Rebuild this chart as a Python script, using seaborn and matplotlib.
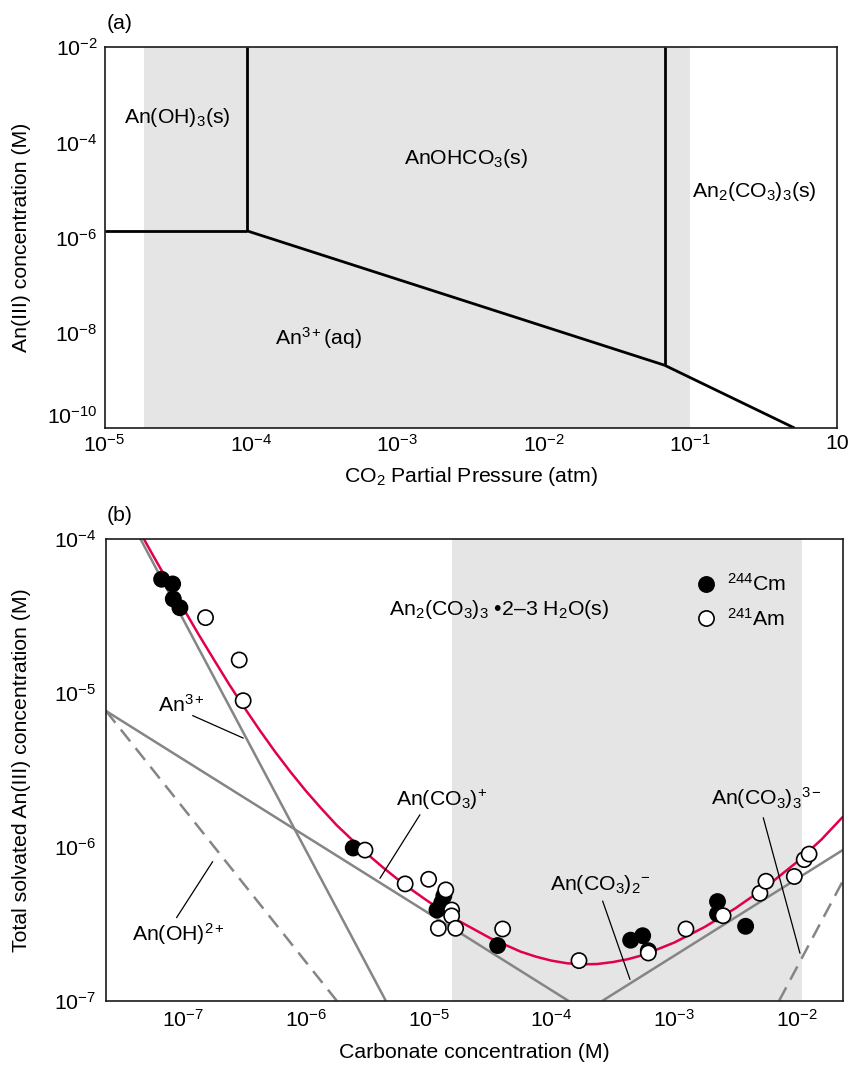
import numpy as np
import pandas as pd
import matplotlib
matplotlib.use("Agg")
import matplotlib.pyplot as plt
import seaborn as sns
from matplotlib.ticker import FixedLocator, FixedFormatter, NullLocator

# ---------------- data: panel (a) -----------------
a_shade = [1.86e-5, 0.1]                 # shaded CO2 range
a_oh_x = [1e-5, 9.4e-5]                  # An(OH)3 / An3+ boundary
a_oh_y = [1.39e-6, 1.39e-6]
a_v1_x = [9.4e-5, 9.4e-5]                # An(OH)3 / AnOHCO3 boundary
a_v1_y = [1.39e-6, 1e-2]
a_slope1_x = [9.4e-5, 0.0665]            # AnOHCO3 solubility
a_slope1_y = [1.39e-6, 2.09e-9]
a_v2_x = [0.0665, 0.0665]                # AnOHCO3 / An2(CO3)3 boundary
a_v2_y = [2.09e-9, 1e-2]
a_slope2_x = [0.0665, 0.513]             # An2(CO3)3 solubility
a_slope2_y = [2.09e-9, 1e-10]
a_xticks = [1e-5, 1e-4, 1e-3, 1e-2, 1e-1, 1e0]
a_xticklabels = ["$10^{-5}$", "$10^{-4}$", "$10^{-3}$", "$10^{-2}$", "$10^{-1}$", "10"]
a_yticks = [1e-10, 1e-8, 1e-6, 1e-4, 1e-2]
a_yticklabels = ["$10^{-10}$", "$10^{-8}$", "$10^{-6}$", "$10^{-4}$", "$10^{-2}$"]

# ---------------- data: panel (b) -----------------
b_shade = [1.556e-5, 1.1e-2]
an3_x = [4.47e-8, 4.47e-6];   an3_y = [1e-4, 1e-7]
anoh_x = [2.35e-8, 1.78e-6];  anoh_y = [7.6e-6, 1e-7]
anco3_x = [2.35e-8, 1.37e-4]; anco3_y = [7.6e-6, 1e-7]
anco32_x = [2.62e-4, 2.37e-2]; anco32_y = [1e-7, 9.5e-7]
anco33_x = [7.19e-3, 2.37e-2]; anco33_y = [1e-7, 5.97e-7]

total_x = [4.467e-8, 5.623e-8, 7.499e-8, 1e-7, 1.334e-7, 1.778e-7, 2.371e-7, 3.162e-7,
           4.217e-7, 5.623e-7, 7.499e-7, 1e-6, 1.334e-6, 1.778e-6, 2.371e-6, 3.162e-6,
           4.217e-6, 5.623e-6, 7.499e-6, 1e-5, 1.778e-5, 3.162e-5, 5.623e-5, 7.499e-5,
           1e-4, 1.334e-4, 1.778e-4, 2.371e-4, 3.162e-4, 4.217e-4, 5.623e-4, 1e-3,
           1.778e-3, 3.162e-3, 5.623e-3, 1e-2, 1.585e-2, 2.371e-2]
total_y = [1.096e-4, 7.89e-5, 5.27e-5, 3.54e-5, 2.39e-5, 1.64e-5, 1.13e-5, 7.96e-6,
           5.68e-6, 4.12e-6, 3.05e-6, 2.30e-6, 1.77e-6, 1.38e-6, 1.11e-6, 8.96e-7,
           7.36e-7, 6.12e-7, 5.16e-7, 4.39e-7, 3.28e-7, 2.55e-7, 2.08e-7, 1.93e-7,
           1.82e-7, 1.75e-7, 1.72e-7, 1.73e-7, 1.78e-7, 1.86e-7, 1.98e-7, 2.38e-7,
           3.01e-7, 3.98e-7, 5.48e-7, 7.93e-7, 1.11e-6, 1.56e-6]

cm_x = [6.67e-8, 8.2e-8, 8.3e-8, 9.4e-8, 2.43e-6, 1.33e-5, 1.28e-5, 1.17e-5, 3.65e-5,
        4.43e-4, 5.55e-4, 6.17e-4, 2.26e-3, 2.26e-3, 3.83e-3]
cm_y = [5.45e-5, 5.08e-5, 4.06e-5, 3.56e-5, 9.8e-7, 4.79e-7, 4.33e-7, 3.88e-7, 2.28e-7,
        2.47e-7, 2.64e-7, 2.11e-7, 4.4e-7, 3.66e-7, 3.04e-7]
am_x = [1.52e-7, 2.86e-7, 3.08e-7, 3.03e-6, 6.44e-6, 1.0e-5, 1.38e-5, 1.54e-5, 1.54e-5,
        1.2e-5, 1.66e-5, 4.01e-5, 1.68e-4, 6.17e-4, 1.25e-3, 2.51e-3, 5.01e-3, 5.61e-3,
        9.55e-3, 1.15e-2, 1.26e-2]
am_y = [3.07e-5, 1.63e-5, 8.87e-6, 9.5e-7, 5.73e-7, 6.14e-7, 5.24e-7, 3.88e-7, 3.55e-7,
        2.95e-7, 2.95e-7, 2.92e-7, 1.82e-7, 2.04e-7, 2.92e-7, 3.56e-7, 4.98e-7, 5.96e-7,
        6.4e-7, 8.24e-7, 8.95e-7]
isotopes = ["$^{244}$Cm", "$^{241}$Am"]

b_xticks = [1e-7, 1e-6, 1e-5, 1e-4, 1e-3, 1e-2]
b_xticklabels = ["$10^{-7}$", "$10^{-6}$", "$10^{-5}$", "$10^{-4}$", "$10^{-3}$", "$10^{-2}$"]
b_yticks = [1e-7, 1e-6, 1e-5, 1e-4]
b_yticklabels = ["$10^{-7}$", "$10^{-6}$", "$10^{-5}$", "$10^{-4}$"]
b_yminor = [3.162e-7, 3.162e-6, 3.162e-5]

# ---------------- style -----------------
sns.set_theme(style="white")
plt.rcParams['font.family'] = ['Liberation Sans', 'DejaVu Sans']
plt.rcParams['mathtext.fontset'] = 'custom'
plt.rcParams['mathtext.rm'] = 'Liberation Sans'
plt.rcParams['mathtext.it'] = 'Liberation Sans:italic'
plt.rcParams['mathtext.bf'] = 'Liberation Sans:bold'
plt.rcParams['mathtext.sf'] = 'Liberation Sans'
plt.rcParams['axes.edgecolor'] = '#1a1a1a'
plt.rcParams['axes.linewidth'] = 1.2
plt.rcParams['text.color'] = 'black'
plt.rcParams['axes.labelcolor'] = 'black'
plt.rcParams['xtick.color'] = 'black'
plt.rcParams['ytick.color'] = 'black'

FS = 15.3
SHADE = '#e5e5e5'
GRAY = '#858585'
RED = '#e2004a'

fig = plt.figure(figsize=(8.51, 10.66), dpi=100)
ax1 = fig.add_axes([0.1228, 0.5985, 0.8607, 0.3571])
ax2 = fig.add_axes([0.1246, 0.0613, 0.8657, 0.4334])

# ---------------- panel (a) -----------------
ax1.set_xscale('log'); ax1.set_yscale('log')
ax1.set_xlim(1e-5, 1e0); ax1.set_ylim(1e-10, 1e-2)
ax1.axvspan(a_shade[0], a_shade[1], color=SHADE, lw=0, zorder=0)
for xs, ys in [(a_oh_x, a_oh_y), (a_v1_x, a_v1_y), (a_slope1_x, a_slope1_y),
               (a_v2_x, a_v2_y), (a_slope2_x, a_slope2_y)]:
    sns.lineplot(x=xs, y=ys, ax=ax1, color='black', linewidth=2.0,
                 sort=False, estimator=None, solid_capstyle='butt')
ax1.xaxis.set_major_locator(FixedLocator(a_xticks))
ax1.xaxis.set_major_formatter(FixedFormatter(a_xticklabels))
ax1.xaxis.set_minor_locator(NullLocator())
ax1.yaxis.set_major_locator(FixedLocator(a_yticks))
ax1.yaxis.set_major_formatter(FixedFormatter(a_yticklabels))
ax1.yaxis.set_minor_locator(NullLocator())
ax1.tick_params(axis='both', which='both', direction='in', length=11, width=1.1,
                color='black', labelsize=FS, labelcolor='black')
ax1.tick_params(axis='x', pad=4)
ax1.tick_params(axis='y', pad=5)
fig.canvas.draw()
# lowest y label sits above the corner, as in the reference
ylabs = ax1.get_yticklabels()
ylabs[0].set_verticalalignment('bottom')
ax1.set_xlabel("CO$_2$ Partial Pressure (atm)", fontsize=FS, color='black', va='top')
ax1.set_ylabel("An(III) concentration (M)", fontsize=FS, color='black')
ax1.xaxis.set_label_coords(0.5, -0.098)
ax1.yaxis.set_label_coords(-0.100, 0.5)
ax1.text(0.003, 1.062, "(a)", transform=ax1.transAxes, fontsize=FS, ha='left', va='center')
ax1.text(10**-4.502, 10**-3.466, "An(OH)$_3$(s)", fontsize=FS, ha='center', va='center')
ax1.text(10**-2.534, 10**-4.328, "AnOHCO$_3$(s)", fontsize=FS, ha='center', va='center')
ax1.text(10**-0.567, 10**-5.037, "An$_2$(CO$_3$)$_3$(s)", fontsize=FS, ha='center', va='center')
ax1.text(10**-3.54, 10**-8.114, "An$^{3+}$(aq)", fontsize=FS, ha='center', va='center')

# ---------------- panel (b) -----------------
ax2.set_xscale('log'); ax2.set_yscale('log')
ax2.set_xlim(2.35e-8, 2.37e-2); ax2.set_ylim(1e-7, 1e-4)
ax2.axvspan(b_shade[0], b_shade[1], color=SHADE, lw=0, zorder=0)
for xs, ys, ls in [(an3_x, an3_y, '-'), (anco3_x, anco3_y, '-'), (anco32_x, anco32_y, '-'),
                   (anoh_x, anoh_y, (0, (6, 3.5))), (anco33_x, anco33_y, (0, (6, 3.5)))]:
    sns.lineplot(x=xs, y=ys, ax=ax2, color=GRAY, linewidth=1.8, linestyle=ls,
                 sort=False, estimator=None)
sns.lineplot(x=total_x, y=total_y, ax=ax2, color=RED, linewidth=1.8,
             sort=False, estimator=None)

pts = pd.DataFrame({
    'carbonate': cm_x + am_x,
    'conc': cm_y + am_y,
    'isotope': [isotopes[0]] * len(cm_x) + [isotopes[1]] * len(am_x),
})
sns.scatterplot(data=pts, x='carbonate', y='conc', hue='isotope', hue_order=isotopes,
                palette={isotopes[0]: 'black', isotopes[1]: 'white'},
                edgecolor='black', linewidth=1.2, s=120, ax=ax2, zorder=5)
sns.move_legend(ax2, 'upper left', bbox_to_anchor=(0.800, 0.925), frameon=False,
                title=None, fontsize=FS, handletextpad=0.5, labelspacing=0.6,
                borderpad=0, borderaxespad=0, handlelength=1.0)

ax2.xaxis.set_major_locator(FixedLocator(b_xticks))
ax2.xaxis.set_major_formatter(FixedFormatter(b_xticklabels))
ax2.xaxis.set_minor_locator(NullLocator())
ax2.yaxis.set_major_locator(FixedLocator(b_yticks))
ax2.yaxis.set_major_formatter(FixedFormatter(b_yticklabels))
ax2.yaxis.set_minor_locator(FixedLocator(b_yminor))
ax2.tick_params(axis='both', which='both', direction='in', length=13, width=1.1,
                color='black', labelsize=FS, labelcolor='black')
ax2.tick_params(axis='x', pad=6)
ax2.tick_params(axis='y', pad=7)
ax2.set_xlabel("Carbonate concentration (M)", fontsize=FS, color='black', va='top')
ax2.set_ylabel("Total solvated An(III) concentration (M)", fontsize=FS, color='black')
ax2.xaxis.set_label_coords(0.5, -0.092)
ax2.yaxis.set_label_coords(-0.1018, 0.5)
ax2.text(0.001, 1.05, "(b)", transform=ax2.transAxes, fontsize=FS, ha='left', va='center')

ax2.text(10**-4.427, 10**-4.458, "An$_2$(CO$_3$)$_3$ •2–3 H$_2$O(s)", fontsize=FS,
         ha='center', va='center')
labels_b = [
    ("An$^{3+}$", (-7.018, -5.077), (-6.923, -5.149), (-6.511, -5.295)),
    ("An(OH)$^{2+}$", (-7.035, -6.570), (-7.054, -6.461), (-6.76, -6.097)),
    ("An(CO$_3$)$^{+}$", (-4.892, -5.697), (-5.071, -5.793), (-5.397, -6.206)),
    ("An(CO$_3$)$_2$$^{-}$", (-3.599, -6.249), (-3.582, -6.353), (-3.359, -6.862)),
    ("An(CO$_3$)$_3$$^{3-}$", (-2.245, -5.684), (-2.273, -5.812), (-1.974, -6.692)),
]
for txt, tpos, l0, l1 in labels_b:
    ax2.text(10**tpos[0], 10**tpos[1], txt, fontsize=FS, ha='center', va='center')
    ax2.annotate('', xy=(10**l1[0], 10**l1[1]), xytext=(10**l0[0], 10**l0[1]),
                 arrowprops=dict(arrowstyle='-', lw=0.9, color='black',
                                 shrinkA=0, shrinkB=0))

for ax in (ax1, ax2):
    for sp in ax.spines.values():
        sp.set_visible(True)
        sp.set_color('#1a1a1a')
        sp.set_linewidth(1.2)

fig.savefig("out.png", dpi=100)
